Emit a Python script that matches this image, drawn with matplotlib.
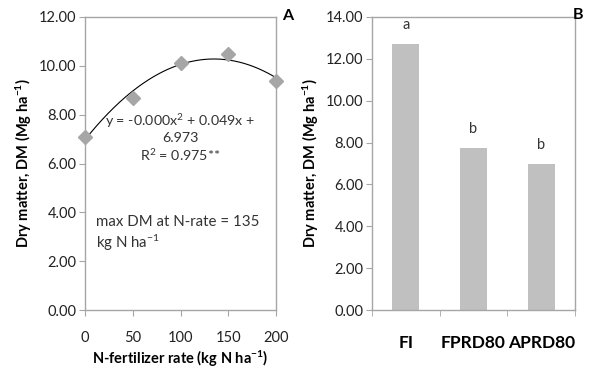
import numpy as np
import matplotlib.pyplot as plt

plt.rcParams['font.family'] = ['Lato', 'DejaVu Sans']
plt.rcParams['mathtext.default'] = 'regular'

# panel A data
n_rate = [0, 50, 100, 150, 200]
dm_a = [7.09, 8.70, 10.11, 10.49, 9.39]
fit_b = 0.049
fit_c = 6.973
n_max = 135

# panel B data
treatments = ['FI', 'FPRD80', 'APRD80']
dm_b = [12.70, 7.75, 6.97]
letters = ['a', 'b', 'b']

gray = '#a6a6a6'
bar_col = '#c0c0c0'

fig = plt.figure(figsize=(6, 3.76), dpi=100)
axA = fig.add_axes([85/600, 1-310/376, 191/600, 293/376])
axB = fig.add_axes([372/600, 1-310/376, 203/600, 293/376])

# Panel A
fit_a = -fit_b / (2 * n_max)
xs = np.linspace(0, 200, 200)
axA.plot(xs, fit_a*xs**2 + fit_b*xs + fit_c, color='black', lw=0.8)
axA.plot(n_rate, dm_a, 'D', color=gray, ms=7, clip_on=False, zorder=3)
axA.set_xlim(0, 200)
axA.set_ylim(0, 12)
axA.set_xticks(n_rate)
axA.set_yticks(np.arange(0, 13, 2))
axA.set_yticklabels(['%.2f' % v for v in np.arange(0, 13, 2)])
axA.set_xlabel('N-fertilizer rate (kg N ha$^{-1}$)', fontweight='bold', fontsize=10.5, labelpad=3)
axA.set_ylabel('Dry matter, DM (Mg ha$^{-1}$)', fontweight='bold', fontsize=10.5, labelpad=4)
axA.text(100, 8.1, 'y = -0.000x$^{2}$ + 0.049x +\n6.973\nR$^{2}$ = 0.975**',
         ha='center', va='top', fontsize=10.3, color='#333333', linespacing=1.2)
axA.text(12, 3.9, 'max DM at N-rate = 135\nkg N ha$^{-1}$',
         ha='left', va='top', fontsize=10.8, color='#333333', linespacing=1.25)
fig.text(288/600, 1-16/376, 'A', fontweight='bold', fontsize=11.5, ha='center', va='center')

# Panel B
pos = np.arange(len(treatments))
axB.bar(pos, dm_b, width=0.4, color=bar_col)
for p, v, l in zip(pos, dm_b, letters):
    axB.text(p, v + 0.9, l, ha='center', va='center', fontsize=10.5, color='#333333')
axB.set_xlim(-0.5, 2.5)
axB.set_ylim(0, 14)
axB.set_yticks(np.arange(0, 15, 2))
axB.set_yticklabels(['%.2f' % v for v in np.arange(0, 15, 2)])
axB.set_xticks(pos)
axB.set_xticklabels(treatments, fontweight='bold', fontsize=12.5)
axB.tick_params(axis='x', length=0, pad=18)
axB.set_xticks([-0.5, 0.5, 1.5, 2.5], minor=True)
axB.tick_params(axis='x', which='minor', length=4, color=gray)
axB.set_ylabel('Dry matter, DM (Mg ha$^{-1}$)', fontweight='bold', fontsize=10.5, labelpad=4)
fig.text(578/600, 1-15/376, 'B', fontweight='bold', fontsize=11.5, ha='center', va='center')

for ax in (axA, axB):
    for s in ax.spines.values():
        s.set_color(gray)
        s.set_linewidth(1)
    ax.tick_params(axis='y', length=4, color=gray, labelsize=10.5, labelcolor='#222222', pad=2)
axA.tick_params(axis='x', length=4, color=gray, labelsize=10.5, labelcolor='#222222', pad=11)

fig.savefig('out.png', dpi=100)
